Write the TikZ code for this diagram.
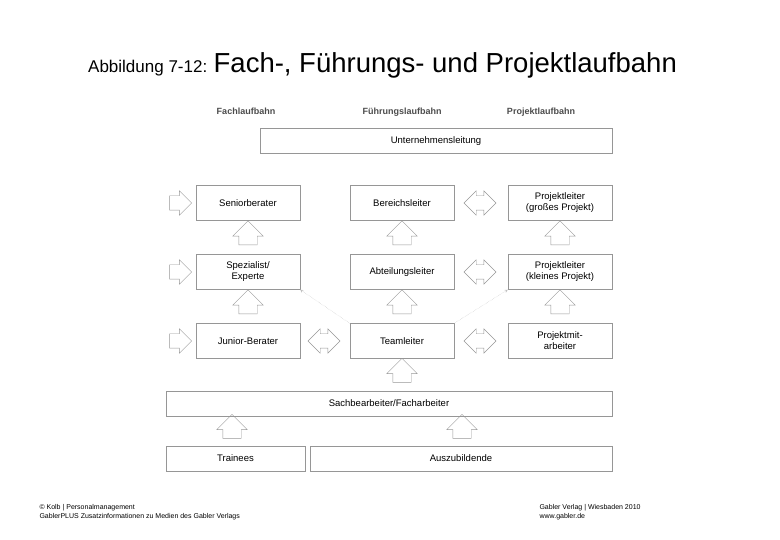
\documentclass[tikz,border=0pt]{standalone}
\usepackage{fontspec}
\setmainfont{Liberation Sans}
\usetikzlibrary{shapes.arrows}
\definecolor{boxgray}{RGB}{150,150,150}

\begin{document}
\begin{tikzpicture}[x=1pt, y=-1pt,
    box/.style={rectangle, draw=boxgray, fill=white, align=center, minimum width=104pt, minimum height=35pt, font=\fontsize{9.5}{11}\selectfont, inner sep=1pt},
    wide/.style={rectangle, draw=boxgray, fill=white, minimum height=25pt, font=\fontsize{9.5}{11}\selectfont},
    uparrow/.style={single arrow, draw=boxgray, shape border rotate=90, text width=0pt, text height=0pt, text depth=0pt, inner xsep=9pt, inner ysep=0pt, single arrow head extend=6pt, minimum height=24pt},
    rightarrow/.style={single arrow, draw=boxgray, text width=0pt, inner xsep=0pt, inner ysep=7pt, single arrow head extend=5pt, minimum height=22pt},
    twoway/.style={double arrow, draw=boxgray, text width=0pt, inner xsep=0pt, inner ysep=7pt, double arrow head extend=5pt, minimum height=32pt},
    head/.style={anchor=base, font=\fontsize{9}{10}\selectfont\bfseries, text=black!70},
    dotarrow/.style={->, >=stealth, densely dotted, black!25}
]
    \useasboundingbox (0,0) rectangle (780,540);

    % Title
    \node[anchor=base west, font=\fontsize{17}{19}\selectfont, inner sep=0pt] (title) at (88,73) {Abbildung 7-12:};
    \node[anchor=base west, font=\fontsize{27.5}{30}\selectfont, inner sep=0pt] (title2) at ([xshift=6pt]title.base east) {Fach-, Führungs- und Projektlaufbahn};

    % Headers
    \node[head] (hfach) at (246,115) {Fachlaufbahn};
    \node[head] (hfuehr) at (402,115) {Führungslaufbahn};
    \node[head] (hprojekt) at (541,115) {Projektlaufbahn};

    % Top box
    \node[wide, minimum width=352pt] (leitung) at (436,141) {Unternehmensleitung};

    % Fachlaufbahn
    \node[box] (senior) at (248,203) {Seniorberater};
    \node[box] (spezial) at (248,272) {Spezialist/\\Experte};
    \node[box] (junior) at (248,341) {Junior-Berater};

    % Führungslaufbahn
    \node[box] (bereich) at (402,203) {Bereichsleiter};
    \node[box] (abteilung) at (402,272) {Abteilungsleiter};
    \node[box] (team) at (402,341) {Teamleiter};

    % Projektlaufbahn
    \node[box] (gross) at (560,203) {Projektleiter\\(großes Projekt)};
    \node[box] (klein) at (560,272) {Projektleiter\\(kleines Projekt)};
    \node[box] (mitarb) at (560,341) {Projektmit-\\arbeiter};

    % Bottom rows
    \node[wide, minimum width=446pt] (sach) at (389,403.5) {Sachbearbeiter/Facharbeiter};
    \node[wide, minimum width=139pt] (trainees) at (235.5,458.5) {Trainees};
    \node[wide, minimum width=302pt] (azubi) at (461,458.5) {Auszubildende};

    % Up arrows
    \node[uparrow] (up1) at (248,237.5) {};
    \node[uparrow] (up2) at (248,306.5) {};
    \node[uparrow] (up3) at (402,237.5) {};
    \node[uparrow] (up4) at (402,306.5) {};
    \node[uparrow] (up5) at (560,237.5) {};
    \node[uparrow] (up6) at (560,306.5) {};
    \node[uparrow] (up7) at (402,375) {};
    \node[uparrow] (up8) at (232,431) {};
    \node[uparrow] (up9) at (462,431) {};

    % Side entry arrows
    \node[rightarrow] (in1) at (177,203) {};
    \node[rightarrow] (in2) at (177,272) {};
    \node[rightarrow] (in3) at (177,341) {};

    % Two-way arrows
    \node[twoway] (tw1) at (324,341) {};
    \node[twoway] (tw2) at (480,203) {};
    \node[twoway] (tw3) at (480,272) {};
    \node[twoway] (tw4) at (480,341) {};

    % Dotted crossovers
    \draw[dotarrow] (team.north west) -- (spezial.south east);
    \draw[dotarrow] (team.north east) -- (klein.south west);

    % Footer
    \node[anchor=west, align=left, font=\fontsize{7}{9}\selectfont] (foot1) at (36,512) {© Kolb | Personalmanagement\\GablerPLUS Zusatzinformationen zu Medien des Gabler Verlags};
    \node[anchor=west, align=left, font=\fontsize{7}{9}\selectfont] (foot2) at (536,512) {Gabler Verlag | Wiesbaden 2010\\www.gabler.de};
\end{tikzpicture}
\end{document}
